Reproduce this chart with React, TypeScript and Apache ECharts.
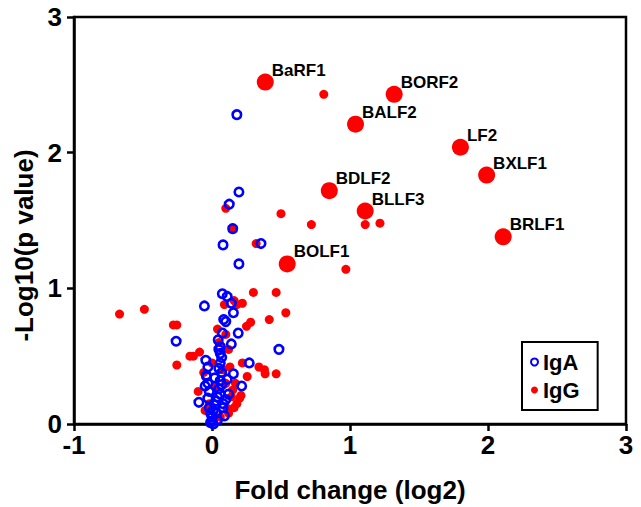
import React, { useEffect, useRef } from "react";
import * as echarts from "echarts";

const FONT = "'Liberation Sans', Arial, Helvetica, sans-serif";

// Axis ticks
const xTicks = [-1, 0, 1, 2, 3];
const yTicks = [0, 1, 2, 3];

// IgA (blue rings): [fold change log2, -log10 p]
const igaX = [
  0.18, 0.195, 0.125, 0.15, 0.08, 0.355, 0.195,
  -0.055, 0.075, 0.11, 0.14, 0.155, 0.085, 0.1, 0.075, 0.19, 0.14, 0.06, 0.045,
  0.485, 0.27, -0.045, 0.155, 0.215, -0.095, -0.26,
  0.0, 0.0, -0.01, 0.01, -0.02, 0.02, 0.03, -0.03, 0.04, 0.06, -0.02, 0.05,
  0.07, -0.03, 0.06, 0.02, -0.04, 0.07, 0.05, -0.03, 0.06, -0.04, 0.07, 0.06,
  0.05, 0.03, 0.08, 0.1, 0.12, -0.05, 0.09, 0.04, 0.01, -0.01, 0.08, 0.11,
];
const igaY = [
  2.28, 1.71, 1.62, 1.44, 1.32, 1.33, 1.18,
  0.87, 0.96, 0.94, 0.89, 0.82, 0.77, 0.755, 0.67, 0.67, 0.59, 0.57, 0.62,
  0.55, 0.45, 0.47, 0.37, 0.28, 0.16, 0.61,
  0.02, 0.05, 0.08, 0.1, 0.12, 0.14, 0.17, 0.19, 0.2, 0.22, 0.24, 0.26,
  0.29, 0.3, 0.32, 0.34, 0.36, 0.38, 0.41, 0.42, 0.45, 0.35, 0.49, 0.52,
  0.55, 0.08, 0.12, 0.18, 0.22, 0.28, 0.06, 0.03, 0.0, 0.01, 0.15, 0.33,
];

// IgG (red dots)
const iggX = [
  0.81, 0.72, 1.11, 1.217, 0.97, 0.5, 0.1, 0.15, 0.32,
  -0.67, -0.49, -0.28, -0.255, -0.255, -0.16, -0.09, -0.135, -0.1,
  0.3, 0.465, 0.22, 0.535, 0.415, 0.28, 0.25, 0.09, 0.16, 0.18,
  0.34, 0.38, 0.385, 0.465, 0.255, 0.15, 0.2, 0.21, 0.11, 0.22,
  -0.02, 0.02, 0.08, 0.05, 0.1, 0.12, 0.1, 0.14, 0.18, 0.06, -0.05, 0.12,
  0.16, 0.04, 0.0, -0.06, 0.13, 0.17,
];
const iggY = [
  2.43, 1.47, 1.47, 1.48, 1.14, 1.55, 1.59, 1.44, 1.33,
  0.81, 0.845, 0.73, 0.73, 0.435, 0.5, 0.53, 0.5, 0.24,
  0.97, 0.97, 0.89, 0.82, 0.77, 0.75, 0.72, 0.88, 0.91, 0.88,
  0.42, 0.4, 0.37, 0.37, 0.35, 0.25, 0.19, 0.21, 0.115, 0.45,
  0.15, 0.28, 0.4, 0.6, 0.66, 0.55, 0.3, 0.2, 0.15, 0.05, 0.1, 0.08,
  0.12, 0.7, 0.45, 0.38, 0.42, 0.3,
];

// Labelled IgG antigens (large red dots)
const labelNames = ["BaRF1", "BORF2", "BALF2", "LF2", "BXLF1", "BDLF2", "BLLF3", "BRLF1", "BOLF1"];
const labelX = [0.386, 1.32, 1.04, 1.8, 1.99, 0.85, 1.11, 2.11, 0.545];
const labelY = [2.52, 2.43, 2.21, 2.04, 1.835, 1.72, 1.57, 1.38, 1.18];

export default function App() {
  const ref = useRef<HTMLDivElement>(null);

  useEffect(() => {
    if (!ref.current) return;
    const chart = echarts.init(ref.current, undefined, { renderer: "svg" });

    const iggData: any[] = iggX.map((x, i) => [x, iggY[i]]);
    labelNames.forEach((n, i) => {
      iggData.push({
        name: n,
        value: [labelX[i], labelY[i]],
        symbolSize: 17,
        label: {
          show: true,
          formatter: n,
          position: "right",
          distance: 0,
          offset: [-2, -12],
          color: "#000",
          fontFamily: FONT,
          fontWeight: "bold",
          fontSize: 17,
        },
      });
    });
    const igaData = igaX.map((x, i) => [x, igaY[i]]);

    const axisText = { color: "#000", fontFamily: FONT, fontWeight: "bold" as const, fontSize: 26 };

    chart.setOption({
      animation: false,
      backgroundColor: "#fff",
      grid: {
        left: 74,
        right: 15,
        top: 17,
        bottom: 83,
        show: true,
        borderColor: "#000",
        borderWidth: 2.5,
        containLabel: false,
        outerBoundsMode: "none",
      },
      legend: {
        data: [
          { name: "IgA", icon: "circle", itemStyle: { color: "rgba(0,0,0,0)", borderColor: "#0000ff", borderWidth: 2 } },
          { name: "IgG", icon: "circle", itemStyle: { color: "#ff0000", borderWidth: 0 } },
        ],
        orient: "vertical",
        left: 522,
        top: 342,
        itemWidth: 7,
        itemHeight: 7,
        itemGap: 2,
        itemTextGap: 20,
        padding: [7, 18, 7, 8],
        borderColor: "#000",
        borderWidth: 2,
        textStyle: { color: "#000", fontFamily: FONT, fontWeight: "bold", fontSize: 22, lineHeight: 26 },
      },
      xAxis: {
        type: "value",
        min: xTicks[0],
        max: xTicks[xTicks.length - 1],
        interval: 1,
        name: "Fold change (log2)",
        nameLocation: "middle",
        nameGap: 53,
        nameTextStyle: axisText,
        axisLine: { show: true, onZero: false, lineStyle: { color: "#000", width: 2.5 } },
        axisTick: { show: true, length: 7, lineStyle: { color: "#000", width: 2.5 } },
        axisLabel: { ...axisText, margin: 8 },
        splitLine: { show: false },
      },
      yAxis: {
        type: "value",
        min: yTicks[0],
        max: yTicks[yTicks.length - 1],
        interval: 1,
        name: "-Log10(p value)",
        nameLocation: "middle",
        nameGap: 29,
        nameTextStyle: { ...axisText, padding: [0, 50, 0, 0] },
        axisLine: { show: true, onZero: false, lineStyle: { color: "#000", width: 2.5 } },
        axisTick: { show: true, length: 7, lineStyle: { color: "#000", width: 2.5 } },
        axisLabel: { ...axisText, margin: 12 },
        splitLine: { show: false },
      },
      series: [
        {
          name: "IgG",
          type: "scatter",
          symbol: "circle",
          symbolSize: 9,
          itemStyle: { color: "#ff0000", opacity: 1 },
          data: iggData,
          z: 2,
        },
        {
          name: "IgA",
          type: "scatter",
          symbol: "circle",
          symbolSize: 8.5,
          itemStyle: { color: "rgba(0,0,0,0)", borderColor: "#0000ff", borderWidth: 2.6, opacity: 1 },
          data: igaData,
          z: 3,
        },
      ],
    });

    return () => chart.dispose();
  }, []);

  return (
    <div
      ref={ref}
      style={{ position: "fixed", left: 0, top: 0, width: 641, height: 507, background: "#fff" }}
    />
  );
}
